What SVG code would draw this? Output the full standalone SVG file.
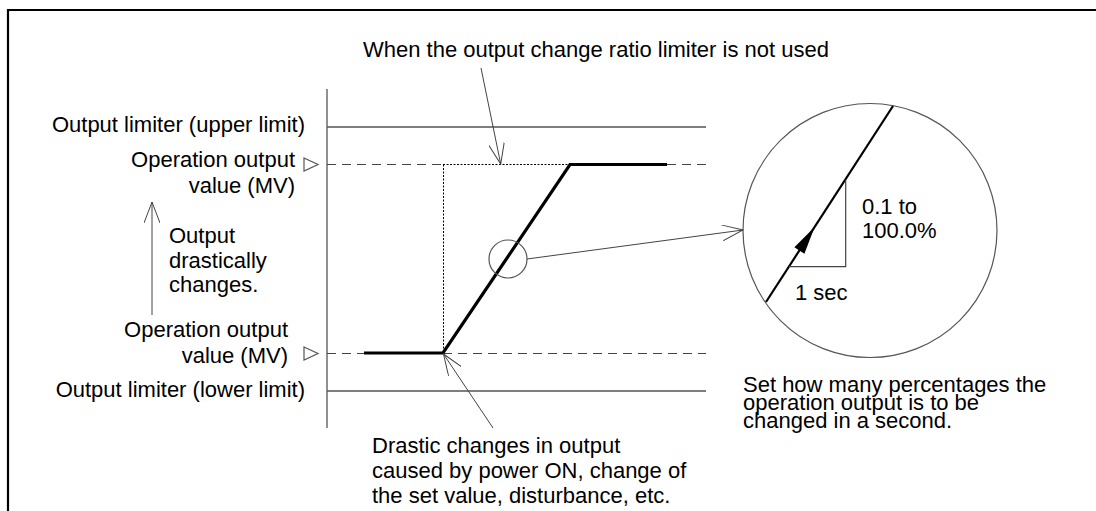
<svg xmlns="http://www.w3.org/2000/svg" width="1096" height="511" viewBox="0 0 1096 511">
<style>
text{font-family:"Liberation Sans",Arial,sans-serif;font-size:22px;fill:#000}
.thin{stroke:#555;stroke-width:1.3;fill:none}
.dash{stroke:#444;stroke-width:1.2;stroke-dasharray:9 6;fill:none}
.dot{stroke:#000;stroke-width:1;stroke-dasharray:2 1.5;fill:none}
.thick{stroke:#000;stroke-width:3.2;fill:none;stroke-linejoin:miter}
.conn{stroke:#444;stroke-width:1;fill:none;marker-end:url(#open)}
.tri{fill:#fff;stroke:#555;stroke-width:1.2}
</style>
<defs>
<marker id="open" viewBox="0 0 22 16" refX="21" refY="8" markerWidth="22" markerHeight="16" markerUnits="userSpaceOnUse" orient="auto">
<path d="M0,0 L21,8 L0,16" fill="none" stroke="#444" stroke-width="1"/>
</marker>
</defs>
<rect width="1096" height="511" fill="#fff"/>
<g id="frame">
<path d="M8,511 V10 H1096" fill="none" stroke="#000" stroke-width="2.2"/>
</g>
<g id="axes">
<line class="thin" x1="327" y1="89" x2="327" y2="428"/>
<line class="thin" x1="327" y1="127" x2="706" y2="127"/>
<line class="thin" x1="327" y1="391" x2="706" y2="391"/>
<path class="dash" d="M327,164.5 H443"/>
<path class="dash" d="M667,164.5 H710"/>
<path class="dash" d="M327,353.5 H364"/>
<path class="dash" d="M443,353.5 H706"/>
<path class="dot" d="M443,164.5 H570 M443.5,164.5 V353"/>
<path class="tri" d="M304,158 L318,164.5 L304,171 Z"/>
<path class="tri" d="M304,347 L318,353.5 L304,360 Z"/>
</g>
<g id="output-curve">
<path class="thick" d="M364,353 H443 L570,164.5 H667"/>
<circle cx="508" cy="259" r="19" fill="none" stroke="#555" stroke-width="1.2"/>
</g>
<g id="zoom-circle">
<circle cx="870" cy="230.5" r="127" fill="none" stroke="#555" stroke-width="1.2"/>
<line x1="893" y1="106" x2="766" y2="302" stroke="#000" stroke-width="2.2"/>
<path d="M845.7,180 V266.7 H789" fill="none" stroke="#444" stroke-width="1.2"/>
<path d="M814.6,227 L804.4,253.8 L794.4,247.2 Z" fill="#000"/>
<text x="862" y="214">0.1 to</text>
<text x="862" y="238">100.0%</text>
<text x="795" y="300">1 sec</text>
</g>
<g id="connectors">
<line class="conn" x1="481" y1="68" x2="500.7" y2="164"/>
<line class="conn" x1="152" y1="315" x2="152" y2="202"/>
<line class="conn" x1="527" y1="259" x2="743" y2="230"/>
<line class="conn" x1="493" y1="428" x2="443.5" y2="354"/>
</g>
<g id="labels">
<text x="363" y="57">When the output change ratio limiter is not used</text>
<text x="305" y="132" text-anchor="end">Output limiter (upper limit)</text>
<text x="295" y="167" text-anchor="end">Operation output</text>
<text x="295" y="193" text-anchor="end">value (MV)</text>
<text x="169" y="243">Output</text>
<text x="169" y="268">drastically</text>
<text x="169" y="292">changes.</text>
<text x="288" y="337" text-anchor="end">Operation output</text>
<text x="288" y="363" text-anchor="end">value (MV)</text>
<text x="305" y="397" text-anchor="end">Output limiter (lower limit)</text>
<text x="372" y="453">Drastic changes in output</text>
<text x="372" y="478">caused by power ON, change of</text>
<text x="372" y="503">the set value, disturbance, etc.</text>
<text x="743" y="392">Set how many percentages the</text>
<text x="743" y="410">operation output is to be</text>
<text x="743" y="428">changed in a second.</text>
</g>
</svg>
